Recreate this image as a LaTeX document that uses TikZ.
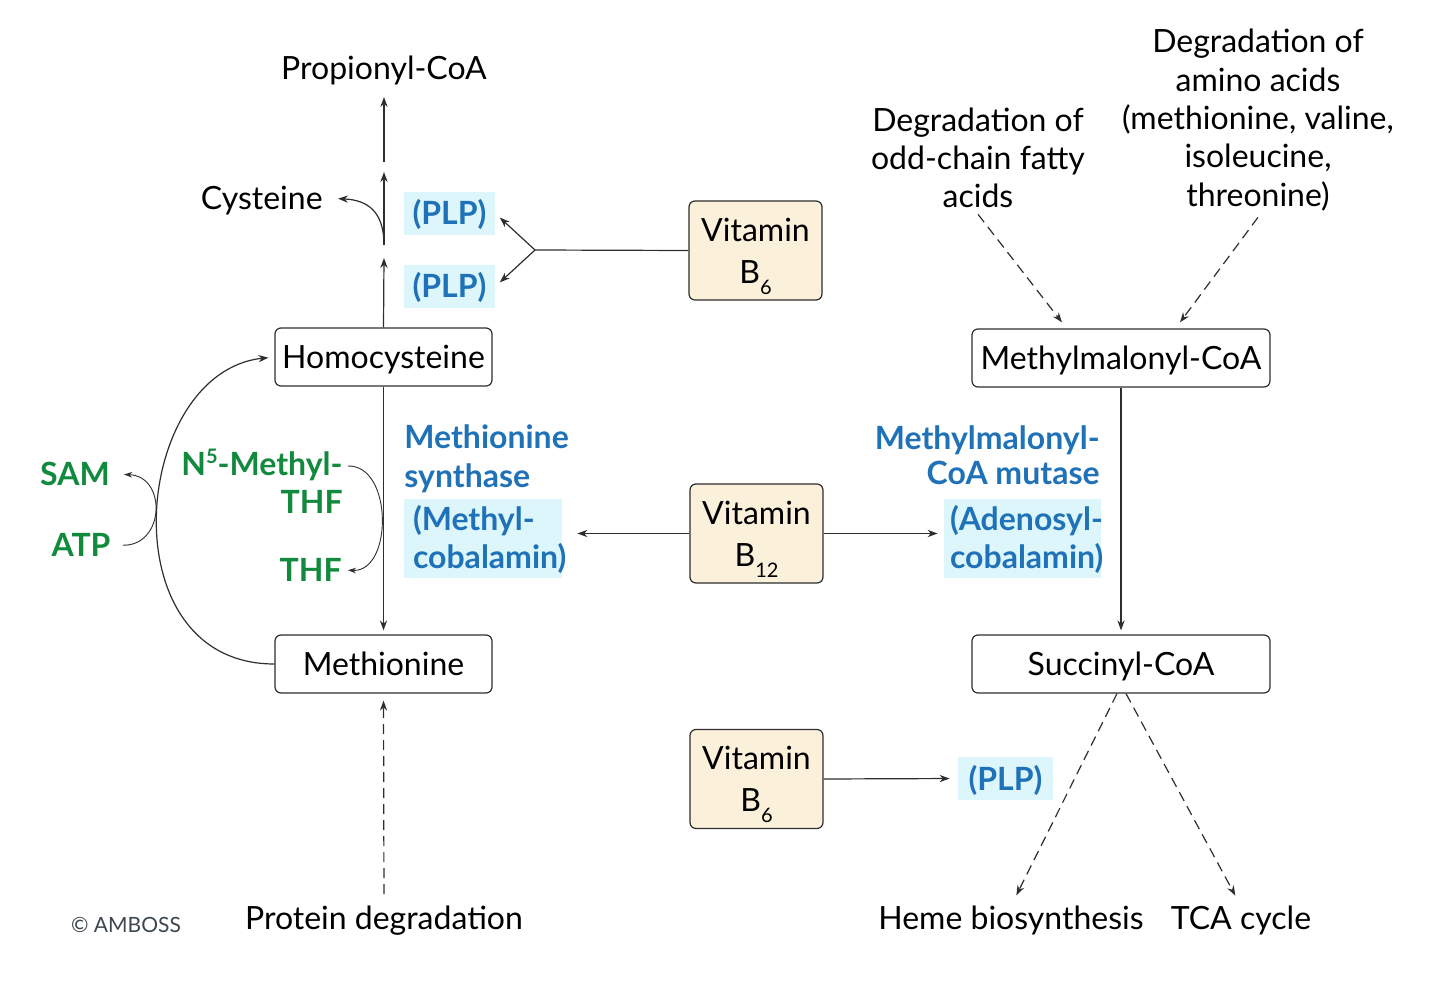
\documentclass[tikz,border=0pt]{standalone}
\usepackage{fontspec}
\setmainfont{Lato}
\usetikzlibrary{arrows.meta}
\definecolor{kblue}{HTML}{1F72B8}
\definecolor{kgreen}{HTML}{128A3E}
\definecolor{kcyan}{HTML}{DCF6FB}
\definecolor{kbeige}{HTML}{FBF0DA}
\definecolor{kedge}{HTML}{2E2E2E}
\definecolor{kgray}{HTML}{3C4650}
\newcommand{\mysub}[1]{\raisebox{-5.5pt}[0pt][0pt]{\fontsize{10}{10}\selectfont #1}}
\newcommand{\mysup}[1]{\raisebox{6pt}[0pt][0pt]{\fontsize{10}{10}\selectfont #1}}
\newcommand{\lline}[2]{\makebox[#1][l]{#2}}
\begin{document}
\begin{tikzpicture}[x=0.5pt,y=-0.5pt,
  every node/.style={font=\fontsize{16}{19}\selectfont, inner sep=0pt},
  one/.style={text height=11.5pt, text depth=0pt},
  box/.style={one, draw=kedge, line width=0.6pt, rounded corners=3pt, minimum width=108.5pt, minimum height=29pt},
  widebox/.style={box, minimum width=149pt},
  vit/.style={draw=kedge, fill=kbeige, line width=0.6pt, rounded corners=3pt, minimum width=66.5pt, minimum height=49.5pt, align=center, font=\fontsize{16}{21}\selectfont},
  cof/.style={fill=kcyan, text=kblue, font=\fontsize{16}{19}\selectfont\bfseries},
  plp/.style={cof, one, minimum width=45.5pt, minimum height=21.5pt},
  enz/.style={text=kblue, font=\fontsize{16}{19.5}\selectfont\bfseries},
  grn/.style={text=kgreen, font=\fontsize{16}{19}\selectfont\bfseries},
  arr/.style={-{Stealth[length=5pt,width=3.6pt]}, line width=0.6pt, draw=kedge},
  tarr/.style={-{Stealth[length=4pt,width=2.8pt]}, line width=0.45pt, draw=kedge},
  dsh/.style={arr, dash pattern=on 5pt off 3pt}
]
\useasboundingbox (0,0) rectangle (1452,1000);

% left column
\node[one] (prop) at (384,68) {Propionyl-CoA};
\node[one, anchor=east] (cys) at (323,198) {Cysteine};
\node[box] (homo) at (383.5,357) {Homocysteine};
\node[box] (meth) at (383.5,664) {Methionine};
\node[one] (prot) at (384,918) {Protein degradation};
\node[font=\fontsize{10.5}{12}\selectfont, text=kgray, text height=7.6pt, text depth=0pt] (amb) at (126,925) {© AMBOSS};

\node[plp] (plp1) at (449.5,213.5) {(PLP)};
\node[plp] (plp2) at (449.5,286.5) {(PLP)};
\node[vit] (vb6a) at (755.5,250.5) {Vitamin\\B\mysub{6}};

\coordinate (g1) at (384,162);
\coordinate (t1) at (384,97);
\coordinate (g2) at (384,245);
\coordinate (t2) at (384,172);
\coordinate (t3) at (384,258);
\coordinate (br) at (535,250);

\draw[arr] (g1) -- (t1);
\draw[arr] (g2) -- (t2);
\draw[arr] (homo.north) -- (t3);
\draw[arr, shorten >=7.5pt] (g2) .. controls (384,212) and (368,200) .. (cys.east);
\draw[line width=0.6pt, draw=kedge] (vb6a.west) -- (br);
\draw[arr, shorten >=3pt] (br) -- (plp1.east);
\draw[arr, shorten >=3pt] (br) -- (plp2.east);

% methionine cycle
\draw[arr, shorten >=2pt] (homo.south) -- (meth.north);
\draw[arr, shorten >=3pt] (meth.west) .. controls (106,664) and (132,372) .. (homo.west);

\node[grn, one] (sam) at (75,474) {SAM};
\node[grn, one] (atp) at (81,545) {ATP};
\draw[tarr, shorten <=6pt, shorten >=7pt] (atp.east) .. controls (165,546) and (167,476) .. (sam.east);

\node[grn, align=right, anchor=east] (n5) at (343,483) {N\mysup{5}-Methyl-\\THF};
\node[grn, one, anchor=east] (thf) at (342,570) {THF};
\coordinate (n5e) at (348,466);
\draw[tarr, shorten >=3pt] (n5e) .. controls (393,465) and (393,572) .. (thf.east);

\node[enz, align=left, anchor=west] (ms) at (404,459) {Methionine\\synthase};
\node[cof, align=left, inner xsep=4.5pt, minimum height=39.5pt] (mc) at (483,538.5) {\rule{0pt}{13.6pt}\lline{70pt}{(Methyl-}\\\lline{70pt}{cobalamin)}};

% vitamin B12
\node[vit] (vb12) at (756.5,533.5) {Vitamin\\B\mysub{12}};
\draw[arr, shorten >=7.5pt] (vb12.west) -- (vb12.west -| mc.east);

\node[enz, align=right, anchor=east, font=\fontsize{16}{17.5}\selectfont\bfseries] (mcm) at (1100,455) {Methylmalonyl-\\CoA mutase};
\node[cof, align=left, inner xsep=3pt, minimum height=39.5pt] (ac) at (1022.5,538.5) {\rule{0pt}{13.6pt}\lline{72.5pt}{(Adenosyl-}\\\lline{72.5pt}{cobalamin)}};
\draw[arr, shorten >=3pt] (vb12.east) -- (vb12.east -| ac.west);

% right column
\node[align=center] (odd) at (978,158) {Degradation of\\odd-chain fatty\\acids};
\node[align=center, font=\fontsize{16}{19.2}\selectfont] (amino) at (1258,120) {Degradation of\\amino acids\\(methionine, valine,\\isoleucine,\\threonine)};
\node[widebox] (mm) at (1121,358) {Methylmalonyl-CoA};
\node[widebox] (succ) at (1121,664) {Succinyl-CoA};
\draw[dsh] ([yshift=-3pt]odd.south) -- ([xshift=-29.5pt,yshift=3pt]mm.north);
\draw[dsh] ([yshift=-3pt]amino.south) -- ([xshift=29.5pt,yshift=3pt]mm.north);
\draw[arr, shorten >=2pt] (mm.south) -- (succ.north);

\node[one] (heme) at (1011,918) {Heme biosynthesis};
\node[one] (tca) at (1241,918) {TCA cycle};
\draw[dsh, shorten >=6pt] ([xshift=-2pt]succ.south) -- (heme.north);
\draw[dsh, shorten >=6pt] ([xshift=2.5pt]succ.south) -- (tca.north);

\node[vit] (vb6b) at (756.5,779) {Vitamin\\B\mysub{6}};
\node[plp, minimum width=47.5pt] (plp3) at (1005.5,778.5) {(PLP)};
\draw[arr, shorten >=4pt] (vb6b.east) -- (plp3.west);

\draw[dsh, shorten <=6pt, shorten >=3.5pt] (prot.north) -- (meth.south);
\end{tikzpicture}
\end{document}
